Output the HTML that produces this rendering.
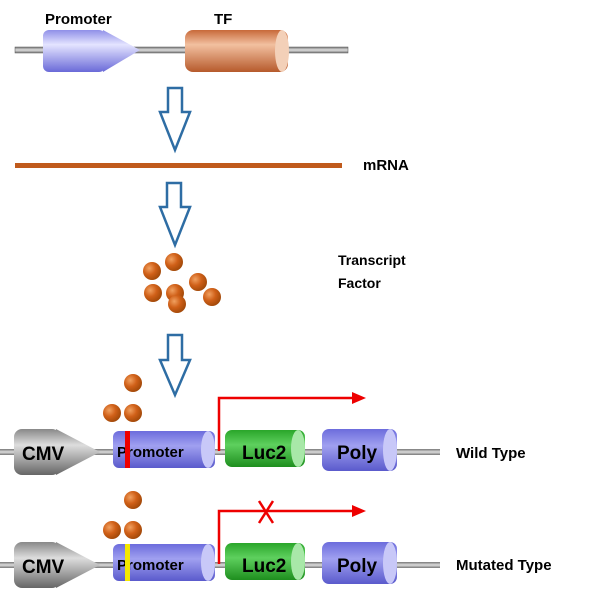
<!DOCTYPE html>
<html><head><style>body{margin:0;background:#fff}text{font-family:"Liberation Sans",sans-serif;font-weight:bold}</style></head><body>
<svg width="602" height="591" viewBox="0 0 602 591" xmlns="http://www.w3.org/2000/svg">
<defs>
<linearGradient id="bl" x1="0" y1="0" x2="0" y2="1"><stop offset="0" stop-color="#8f8fe8"/><stop offset=".35" stop-color="#e4e4ff"/><stop offset="1" stop-color="#6a6ad8"/></linearGradient>
<linearGradient id="bl2" x1="0" y1="0" x2="0" y2="1"><stop offset="0" stop-color="#6c6cdc"/><stop offset=".4" stop-color="#a0a0f0"/><stop offset="1" stop-color="#5a5acc"/></linearGradient>
<linearGradient id="or" x1="0" y1="0" x2="0" y2="1"><stop offset="0" stop-color="#c8693a"/><stop offset=".35" stop-color="#f2c0a0"/><stop offset="1" stop-color="#b65a2c"/></linearGradient>
<linearGradient id="gr" x1="0" y1="0" x2="0" y2="1"><stop offset="0" stop-color="#2aa62a"/><stop offset=".4" stop-color="#5ed05e"/><stop offset="1" stop-color="#1e8e1e"/></linearGradient>
<linearGradient id="gy" x1="0" y1="0" x2="0" y2="1"><stop offset="0" stop-color="#888"/><stop offset=".35" stop-color="#ddd"/><stop offset="1" stop-color="#666"/></linearGradient>
<linearGradient id="ln" x1="0" y1="0" x2="0" y2="1"><stop offset="0" stop-color="#777"/><stop offset=".5" stop-color="#ddd"/><stop offset="1" stop-color="#777"/></linearGradient>
<radialGradient id="ball" cx=".35" cy=".35" r=".7"><stop offset="0" stop-color="#f0a060"/><stop offset=".5" stop-color="#d06018"/><stop offset="1" stop-color="#a04808"/></radialGradient>
</defs>
<rect x="15" y="47" width="333" height="6" fill="url(#ln)" stroke="#555" stroke-width=".5"/>
<rect x="43" y="30" width="62" height="42" rx="6" fill="url(#bl)"/>
<path d="M103 30 L140 50 L103 72 Q98 50 103 30Z" fill="url(#bl)"/>
<rect x="185" y="30" width="103" height="42" rx="8" fill="url(#or)"/>
<ellipse cx="282" cy="51" rx="7" ry="21" fill="#f3d0b8"/>
<text x="45" y="24" font-size="15">Promoter</text>
<text x="214" y="24" font-size="15">TF</text>
<g fill="#fff" stroke="#2e6da4" stroke-width="2.5">
<path d="M168 88 H182 V112 H190 L175 150 L160 112 H168Z"/>
<path d="M167 183 H181 V207 H190 L175 245 L160 207 H167Z"/>
<path d="M168 335 H182 V360 H190 L175 395 L160 360 H168Z"/>
</g>
<rect x="15" y="163" width="327" height="5" fill="#c05a1c"/>
<text x="363" y="170" font-size="15">mRNA</text>
<g fill="url(#ball)">
<circle cx="152" cy="271" r="9"/><circle cx="174" cy="262" r="9"/><circle cx="153" cy="293" r="9"/><circle cx="175" cy="293" r="9"/><circle cx="198" cy="282" r="9"/><circle cx="212" cy="297" r="9"/><circle cx="177" cy="304" r="9"/>
<circle cx="133" cy="383" r="9"/><circle cx="112" cy="413" r="9"/><circle cx="133" cy="413" r="9"/>
<circle cx="133" cy="500" r="9"/><circle cx="112" cy="530" r="9"/><circle cx="133" cy="530" r="9"/>
</g>
<text x="338" y="265" font-size="14">Transcript</text>
<text x="338" y="288" font-size="14">Factor</text>
<g id="row">
<rect x="0" y="449" width="440" height="6" fill="url(#ln)"/>
<rect x="14" y="429" width="46" height="46" rx="8" fill="url(#gy)"/>
<path d="M56 429 L100 452 L56 475 Q52 452 56 429Z" fill="url(#gy)"/>
<rect x="113" y="431" width="102" height="37" rx="6" fill="url(#bl2)"/>
<ellipse cx="208" cy="449.5" rx="7" ry="18.5" fill="#c8c8f8"/>
<rect x="225" y="430" width="80" height="37" rx="7" fill="url(#gr)"/>
<ellipse cx="298" cy="448.5" rx="7" ry="18.5" fill="#a8e8a8"/>
<rect x="322" y="429" width="75" height="42" rx="7" fill="url(#bl2)"/>
<ellipse cx="390" cy="450" rx="7" ry="21" fill="#c8c8f8"/>
<text x="22" y="460" font-size="19">CMV</text>
<text x="117" y="457" font-size="15">Promoter</text>
<text x="242" y="459" font-size="19">Luc2</text>
<text x="337" y="459" font-size="19">Poly</text>
</g>
<rect x="125" y="431" width="5" height="37" fill="#e00"/>
<path d="M219 451 V398 H355" fill="none" stroke="#e00" stroke-width="2.5"/>
<path d="M352 392 L366 398 L352 404Z" fill="#e00"/>
<text x="456" y="458" font-size="15">Wild Type</text>
<use href="#row" y="113"/>
<rect x="125" y="544" width="5" height="37" fill="#f4e800"/>
<path d="M219 564 V511 H355" fill="none" stroke="#e00" stroke-width="2.5"/>
<path d="M352 505 L366 511 L352 517Z" fill="#e00"/>
<path d="M259 501 L273 523 M273 501 L259 523" stroke="#e00" stroke-width="2.5"/>
<text x="456" y="570" font-size="15">Mutated Type</text>
</svg>
</body></html>
